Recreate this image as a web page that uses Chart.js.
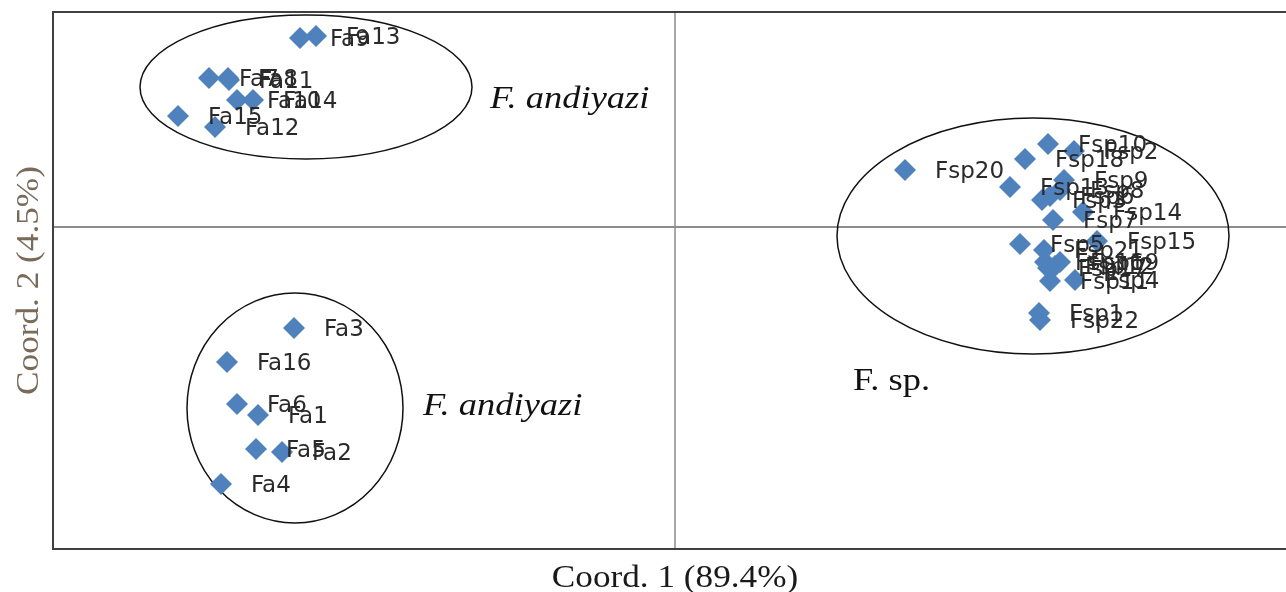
<!DOCTYPE html>
<html>
<head>
<meta charset="utf-8">
<script src="https://cdn.jsdelivr.net/npm/chart.js@4/dist/chart.umd.min.js"></script>
<style>
  html, body { margin: 0; padding: 0; background: #fff; overflow: hidden; }
  #wrap { width: 1286px; height: 592px; }
</style>
</head>
<body>
<div id="wrap"><canvas id="chart" width="1286" height="592"></canvas></div>
<script>
// PCoA coordinates
const faNames = ['Fa13', 'Fa9', 'Fa7', 'Fa8', 'Fa11', 'Fa10', 'Fa14', 'Fa15', 'Fa12',
                 'Fa3', 'Fa16', 'Fa6', 'Fa1', 'Fa5', 'Fa2', 'Fa4'];
const faX = [-0.359, -0.375, -0.466, -0.447, -0.446, -0.438, -0.422, -0.497, -0.460,
             -0.381, -0.448, -0.438, -0.417, -0.419, -0.393, -0.454];
const faY = [0.191, 0.189, 0.149, 0.149, 0.147, 0.127, 0.127, 0.111, 0.100,
             -0.101, -0.135, -0.177, -0.188, -0.222, -0.225, -0.257];

const fspNames = ['Fsp20', 'Fsp18', 'Fsp10', 'Fsp2', 'Fsp9', 'Fsp13', 'Fsp3', 'Fsp6', 'Fsp8',
                  'Fsp7', 'Fsp14', 'Fsp15', 'Fsp5', 'Fsp21', 'Fsp16', 'Fsp17', 'Fsp19',
                  'Fsp12', 'Fsp11', 'Fsp4', 'Fsp1', 'Fsp22'];
const fspX = [0.230, 0.350, 0.373, 0.399, 0.389, 0.335, 0.367, 0.375, 0.385,
              0.378, 0.408, 0.422, 0.345, 0.369, 0.370, 0.373, 0.385,
              0.380, 0.375, 0.400, 0.364, 0.365];
const fspY = [0.057, 0.068, 0.083, 0.076, 0.047, 0.040, 0.027, 0.031, 0.037,
              0.007, 0.015, -0.014, -0.017, -0.023, -0.035, -0.041, -0.035,
              -0.039, -0.054, -0.053, -0.086, -0.093];

// group ellipses (centre x, centre y, radius x, radius y) in coordinate units
const groupCx = [-0.369, -0.380, 0.358];
const groupCy = [0.140, -0.181, -0.009];
const groupRx = [0.166, 0.108, 0.196];
const groupRy = [0.072, 0.115, 0.118];

const groupNames = ['F. andiyazi', 'F. andiyazi', 'F. sp.'];
const groupItalic = [true, true, false];
const groupLabelX = [-0.185, -0.252, 0.178];
const groupLabelY = [0.127, -0.180, -0.155];

const xTitle = 'Coord. 1 (89.4%)';
const yTitle = 'Coord. 2 (4.5%)';

const allNames = faNames.concat(fspNames);
const points = faX.map((x, i) => ({ x: x, y: faY[i] }))
  .concat(fspX.map((x, i) => ({ x: x, y: fspY[i] })));

// serif text in the source is a bit wider than Liberation Serif
function wideText(ctx, text, x, y, sx) {
  ctx.save();
  ctx.translate(x, y);
  ctx.scale(sx, 1);
  ctx.fillText(text, 0, 0);
  ctx.restore();
}

const pcoaDecor = {
  id: 'pcoaDecor',
  beforeDatasetsDraw(chart) {
    const ctx = chart.ctx;
    const a = chart.chartArea;
    const xs = chart.scales.x, ys = chart.scales.y;
    ctx.save();
    // zero lines
    ctx.lineWidth = 2;
    ctx.strokeStyle = '#a8a8a8';
    const x0 = Math.round(xs.getPixelForValue(0));
    ctx.beginPath(); ctx.moveTo(x0, a.top); ctx.lineTo(x0, a.bottom); ctx.stroke();
    ctx.strokeStyle = '#8c8c8c';
    const y0 = Math.round(ys.getPixelForValue(0));
    ctx.beginPath(); ctx.moveTo(a.left, y0); ctx.lineTo(a.right, y0); ctx.stroke();
    // frame
    ctx.strokeStyle = '#404040';
    ctx.lineWidth = 2;
    ctx.beginPath();
    ctx.moveTo(a.right, a.top); ctx.lineTo(a.left, a.top);
    ctx.lineTo(a.left, a.bottom); ctx.lineTo(a.right, a.bottom);
    ctx.stroke();
    // ellipses
    ctx.strokeStyle = '#111';
    ctx.lineWidth = 1.5;
    groupCx.forEach((cx, i) => {
      const px = xs.getPixelForValue(cx), py = ys.getPixelForValue(groupCy[i]);
      const rx = Math.abs(xs.getPixelForValue(cx + groupRx[i]) - px);
      const ry = Math.abs(ys.getPixelForValue(groupCy[i] + groupRy[i]) - py);
      ctx.beginPath();
      ctx.ellipse(px, py, rx, ry, 0, 0, Math.PI * 2);
      ctx.stroke();
    });
    // group names
    ctx.fillStyle = '#111';
    ctx.textBaseline = 'middle';
    ctx.textAlign = 'left';
    groupNames.forEach((t, i) => {
      ctx.font = (groupItalic[i] ? 'italic ' : '') + '32px "Liberation Serif"';
      wideText(ctx, t, xs.getPixelForValue(groupLabelX[i]), ys.getPixelForValue(groupLabelY[i]), 1.14);
    });
    // axis titles
    ctx.font = '32px "Liberation Serif"';
    ctx.textAlign = 'center';
    ctx.fillStyle = '#1a1a1a';
    wideText(ctx, xTitle, x0, a.bottom + 30, 1.1);
    ctx.save();
    ctx.translate(30, (a.top + a.bottom) / 2);
    ctx.rotate(-Math.PI / 2);
    ctx.fillStyle = '#7a6a5a';
    wideText(ctx, yTitle, 0, 0, 1.1);
    ctx.restore();
    ctx.restore();
  },
  afterDatasetsDraw(chart) {
    const ctx = chart.ctx;
    const meta = chart.getDatasetMeta(0);
    ctx.save();
    ctx.font = '23px "DejaVu Sans"';
    ctx.fillStyle = '#2a2a2a';
    ctx.textBaseline = 'middle';
    ctx.textAlign = 'left';
    meta.data.forEach((el, i) => {
      ctx.fillText(allNames[i], el.x + 30, el.y + 2);
    });
    ctx.restore();
  }
};

new Chart(document.getElementById('chart').getContext('2d'), {
  type: 'scatter',
  data: {
    datasets: [{
      data: points,
      pointStyle: 'rectRot',
      pointRadius: 11,
      pointHoverRadius: 11,
      backgroundColor: '#4f81bd',
      borderColor: '#4f81bd',
      borderWidth: 0
    }]
  },
  options: {
    responsive: false,
    animation: false,
    events: [],
    layout: { autoPadding: false, padding: { left: 53, top: 12, right: 0, bottom: 43 } },
    plugins: { legend: { display: false }, tooltip: { enabled: false } },
    scales: {
      x: { type: 'linear', display: false, min: -0.622, max: 0.611 },
      y: { type: 'linear', display: false, min: -0.322, max: 0.215 }
    }
  },
  plugins: [pcoaDecor]
});
</script>
</body>
</html>
